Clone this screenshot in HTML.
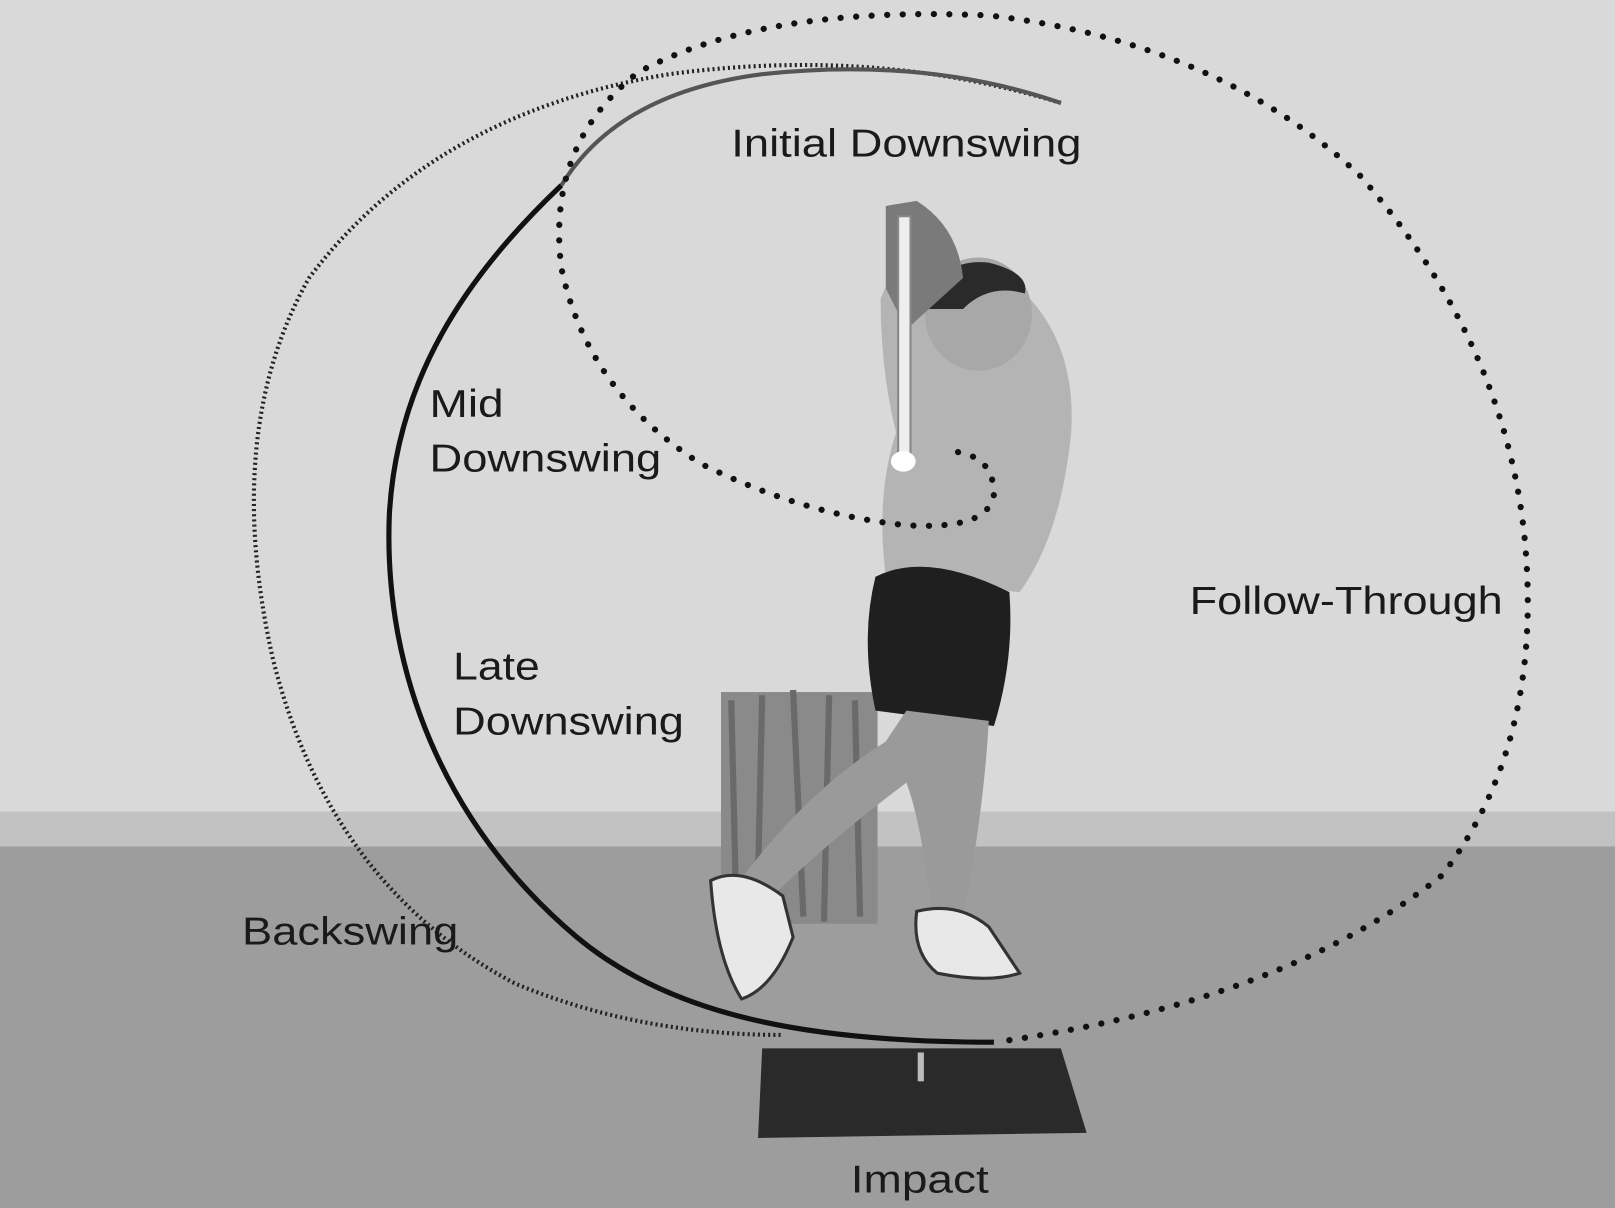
<!DOCTYPE html>
<html><head><meta charset="utf-8"><style>
html,body{margin:0;padding:0;width:1615px;height:1208px;overflow:hidden;background:#d8d8d8}
svg{display:block}
text{font-family:"Liberation Sans",sans-serif;fill:#1a1a1a}
</style></head><body>
<svg width="1615" height="1208" viewBox="0 0 1568 1173" preserveAspectRatio="none">
<rect width="1568" height="1173" fill="#d9d9d9"/>
<rect y="788" width="1568" height="36" fill="#c2c2c2"/>
<rect y="822" width="1568" height="351" fill="#9d9d9d"/>
<!-- box -->
<rect x="700" y="672" width="152" height="225" fill="#8a8a8a"/>
<path d="M710 680 L715 890 M740 675 L735 895 M770 670 L780 890 M805 675 L800 895 M830 680 L835 890" stroke="#6a6a6a" stroke-width="6" fill="none"/>
<!-- mat -->
<polygon points="740,1018 1030,1018 1055,1100 736,1105" fill="#2a2a2a"/>
<rect x="891" y="1022" width="6" height="28" fill="#bbb"/>
<!-- person -->
<path d="M855 290 Q870 250 900 260 L1000 290 Q1045 340 1040 420 Q1030 520 990 575 L860 560 Q850 480 870 420 Q855 360 855 290Z" fill="#b4b4b4"/>
<ellipse cx="950" cy="305" rx="52" ry="55" fill="#a8a8a8"/>
<path d="M900 300 Q910 250 960 255 Q1000 265 995 285 Q960 275 935 300 Z" fill="#2a2a2a"/>
<path d="M850 560 Q900 535 980 575 Q985 640 965 705 L850 690 Q835 620 850 560Z" fill="#1f1f1f"/>
<path d="M880 690 L960 700 Q955 790 935 890 L905 890 Q895 800 880 760 Q800 820 740 880 L715 860 Q780 770 860 720Z" fill="#9a9a9a"/>
<path d="M690 855 Q720 840 760 870 L770 910 Q750 960 720 970 Q695 930 690 855Z" fill="#e8e8e8" stroke="#333" stroke-width="3"/>
<path d="M890 885 Q930 875 960 900 L990 945 Q960 955 910 945 Q885 925 890 885Z" fill="#e8e8e8" stroke="#333" stroke-width="3"/>
<path d="M860 200 L890 195 Q930 220 935 270 L880 320 L860 280Z" fill="#7a7a7a"/>
<rect x="872" y="210" width="12" height="240" fill="#eeeeee" stroke="#888" stroke-width="2"/>
<ellipse cx="877" cy="448" rx="12" ry="10" fill="#fff"/>
<!-- thin dotted backswing -->
<path d="M1030 100 Q850 45 650 72 Q420 110 300 270 Q215 420 265 640 Q320 860 500 955 Q620 1005 760 1005" fill="none" stroke="#222" stroke-width="4" stroke-dasharray="2 3"/>
<!-- solid downswing -->
<path d="M1030 100 Q900 55 740 72 Q600 90 545 180" fill="none" stroke="#555" stroke-width="4"/>
<path d="M545 180 C450 270 385 370 378 500 C372 650 430 800 560 910 C650 985 780 1012 965 1012" fill="none" stroke="#111" stroke-width="5"/>
<!-- follow-through big dots -->
<path d="M980 1010 Q1250 970 1400 850 Q1500 720 1480 520 Q1460 330 1320 170 Q1180 40 960 15 Q740 5 620 70 Q530 140 545 260 Q570 380 680 450 Q780 500 880 510 Q960 515 965 480 Q965 440 920 438" fill="none" stroke="#111" stroke-width="6" stroke-linecap="round" stroke-dasharray="0.1 15"/>
<!-- labels -->
<text x="710" y="152" font-size="38" textLength="340" lengthAdjust="spacingAndGlyphs">Initial Downswing</text>
<text x="417" y="405" font-size="38" textLength="72" lengthAdjust="spacingAndGlyphs">Mid</text>
<text x="417" y="458" font-size="38" textLength="225" lengthAdjust="spacingAndGlyphs">Downswing</text>
<text x="440" y="660" font-size="38" textLength="84" lengthAdjust="spacingAndGlyphs">Late</text>
<text x="440" y="713" font-size="38" textLength="224" lengthAdjust="spacingAndGlyphs">Downswing</text>
<text x="1155" y="596" font-size="38" textLength="304" lengthAdjust="spacingAndGlyphs">Follow-Through</text>
<text x="235" y="917" font-size="38" textLength="210" lengthAdjust="spacingAndGlyphs">Backswing</text>
<text x="826" y="1158" font-size="38" textLength="134" lengthAdjust="spacingAndGlyphs">Impact</text>
</svg>
</body></html>
